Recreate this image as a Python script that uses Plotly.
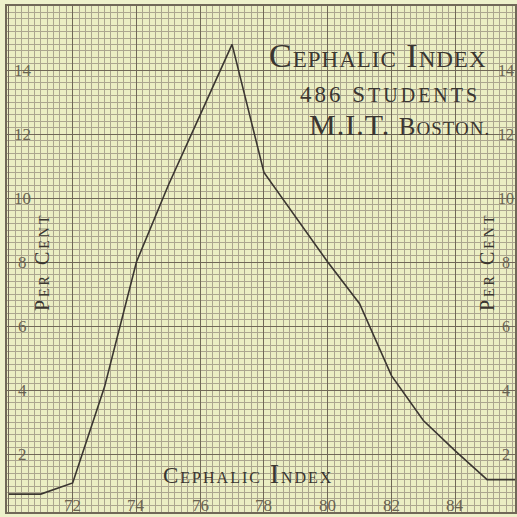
import plotly.graph_objects as go

# Data
cephalic_index = [70, 71, 72, 73, 74, 75, 76, 77, 78, 79, 80, 81, 82, 83, 84, 85, 86]
per_cent = [0.75, 0.75, 1.1, 4.1, 8.0, 10.4, 12.6, 14.8, 10.8, 9.4, 8.0, 6.7, 4.45, 3.05, 2.1, 1.2, 1.2]

x_tick_vals = [72, 74, 76, 78, 80, 82, 84]
x_tick_text = ["72", "74", "76", "78", "80", "82", "84"]
y_tick_vals = [2, 4, 6, 8, 10, 12, 14]
y_tick_text = ["2", "4", "6", "8", "10", "12", "14"]

PAPER = "#ebeec3"
MINOR = "#aca68f"
MAJOR = "#716858"
INK = "#3b3631"
NUM = "#6a6352"
FONT = "Liberation Serif"

fig = go.Figure()
fig.add_trace(go.Scatter(
    x=cephalic_index, y=per_cent, mode="lines",
    line=dict(color=INK, width=1.6), hoverinfo="skip", showlegend=False,
))

axis_common = dict(
    showgrid=True, gridcolor=MAJOR, gridwidth=1.4, dtick=2, tick0=0,
    showticklabels=False, ticks="", zeroline=False,
    showline=True, linecolor=MAJOR, linewidth=2, mirror=True,
    minor=dict(showgrid=True, gridcolor=MINOR, gridwidth=1, dtick=0.2, tick0=0),
)
fig.update_xaxes(range=[69.94, 85.875], **axis_common)
fig.update_yaxes(range=[0.19, 16.0], **axis_common)

ann = []
# x tick labels (bottom, inside)
for v, t in zip(x_tick_vals, x_tick_text):
    ann.append(dict(x=v, y=0.38, xref="x", yref="y", text=t, showarrow=False,
                    font=dict(family=FONT, size=17, color=NUM)))
# y tick labels left and right
for v, t in zip(y_tick_vals, y_tick_text):
    ann.append(dict(x=0.031, y=v, xref="paper", yref="y", xanchor="center", text=t,
                    showarrow=False, font=dict(family=FONT, size=17, color=NUM)))
    ann.append(dict(x=0.983, y=v, xref="paper", yref="y", xanchor="center", text=t,
                    showarrow=False, font=dict(family=FONT, size=16, color=NUM)))

ls = "letter-spacing:3px"
per_cent_txt = (f"<span style='{ls}'>P<span style='font-size:14px'>ER</span> "
                f"C<span style='font-size:14px'>ENT</span></span>")
for xp in (0.069, 0.945):
    ann.append(dict(x=xp, y=8.0, xref="paper", yref="y", xanchor="center", text=per_cent_txt,
                    textangle=-90, showarrow=False,
                    font=dict(family=FONT, size=20, color=INK)))

# bottom axis label
ann.append(dict(
    x=0.474, y=1.4, xref="paper", yref="y", xanchor="center",
    text=("<span style='letter-spacing:2px'>C<span style='font-size:16px'>EPHALIC</span> "
          "<span style='font-size:28px'>I</span><span style='font-size:16px'>NDEX</span></span>"),
    showarrow=False, font=dict(family=FONT, size=23, color=INK)))

# title block
ann.append(dict(
    x=0.948, y=14.45, xref="paper", yref="y", xanchor="right",
    text=("<span style='letter-spacing:1px'>C<span style='font-size:23px'>EPHALIC</span> "
          "I<span style='font-size:23px'>NDEX</span></span>"),
    showarrow=False, font=dict(family=FONT, size=34, color=INK)))
ann.append(dict(
    x=0.935, y=13.25, xref="paper", yref="y", xanchor="right",
    text="<span style='letter-spacing:3px'>486 S<span style='font-size:20px'>TUDENTS</span></span>",
    showarrow=False, font=dict(family=FONT, size=23, color=INK)))
ann.append(dict(
    x=0.955, y=12.3, xref="paper", yref="y", xanchor="right",
    text=("<span style='letter-spacing:1px'>M.I.T. <span style='font-size:25px'>B</span>"
          "<span style='font-size:19px'>OSTON.</span></span>"),
    showarrow=False, font=dict(family=FONT, size=30, color=INK)))

fig.update_layout(
    width=517, height=517,
    margin=dict(l=7, r=0, t=6, b=5),
    paper_bgcolor="#eef1cb", plot_bgcolor=PAPER,
    annotations=ann, showlegend=False,
)

fig.write_html("out.html", config={"displayModeBar": False},
               post_script="document.body.style.margin='0px';document.body.style.overflow='hidden';")
